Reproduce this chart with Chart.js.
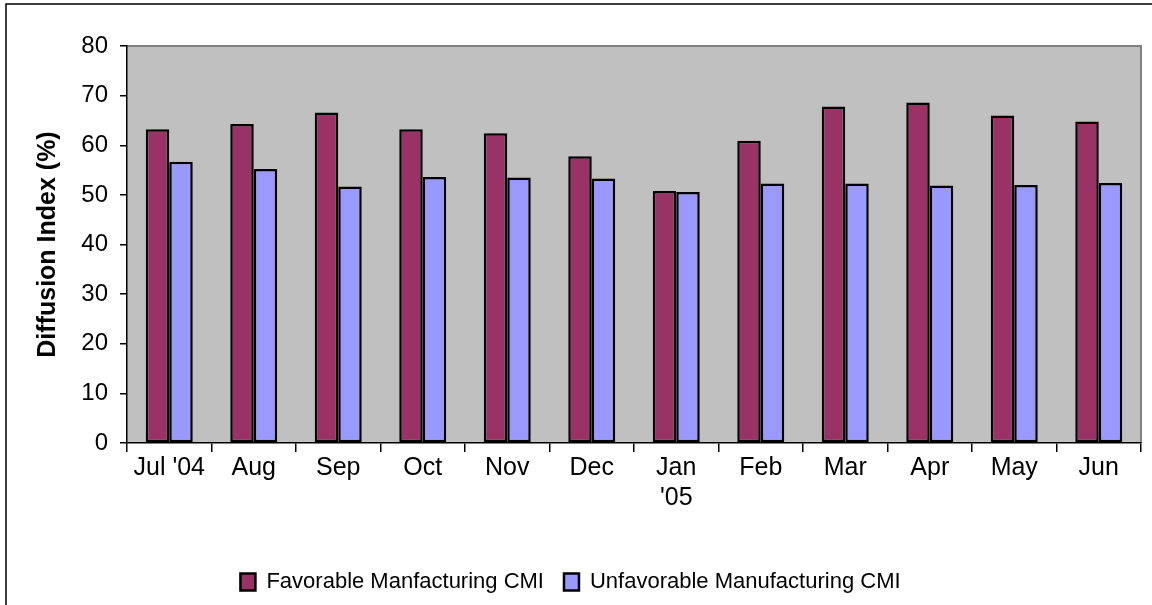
<!DOCTYPE html>
<html>
<head>
<meta charset="utf-8">
<script src="https://cdn.jsdelivr.net/npm/chart.js@4"></script>
<style>
  body { margin: 0; background: #fff; }
  #wrap { width: 1152px; height: 605px; }
</style>
</head>
<body>
<div id="wrap"><canvas id="myChart"></canvas></div>
<script>
const months = ["Jul '04", 'Aug', 'Sep', 'Oct', 'Nov', 'Dec', ['Jan', "'05"], 'Feb', 'Mar', 'Apr', 'May', 'Jun'];
const favorable = [63.2, 64.3, 66.6, 63.2, 62.4, 57.8, 50.8, 60.9, 67.8, 68.6, 66.0, 64.8];
const unfavorable = [56.7, 55.2, 51.7, 53.6, 53.5, 53.3, 50.6, 52.3, 52.3, 51.9, 52.0, 52.4];
const yTicks = [0, 10, 20, 30, 40, 50, 60, 70, 80];

// gray plot area + outer frame like the excel picture
const plotBg = {
  id: 'plotBg',
  beforeDraw(chart) {
    const { ctx, chartArea: a } = chart;
    ctx.save();
    ctx.fillStyle = '#fff';
    ctx.fillRect(0, 0, chart.width, chart.height);
    ctx.fillStyle = '#C0C0C0';
    ctx.fillRect(a.left, a.top, a.right - a.left, a.bottom - a.top);
    ctx.strokeStyle = '#808080';
    ctx.lineWidth = 2;
    ctx.beginPath();
    ctx.moveTo(a.left, a.top);
    ctx.lineTo(a.right, a.top);
    ctx.lineTo(a.right, a.bottom);
    ctx.stroke();
    ctx.strokeStyle = '#000';
    ctx.lineWidth = 1.5;
    ctx.beginPath();
    ctx.moveTo(6, chart.height);
    ctx.lineTo(6, 4);
    ctx.lineTo(chart.width, 4);
    ctx.stroke();
    ctx.restore();
  }
};

Chart.defaults.font.family = '"Liberation Sans", Arial, sans-serif';
Chart.defaults.color = '#000';

const ctx = document.getElementById('myChart');

new Chart(ctx, {
  type: 'bar',
  data: {
    labels: months,
    datasets: [{
      label: 'Favorable Manfacturing CMI',
      data: favorable,
      backgroundColor: '#993366',
      borderColor: '#000',
      borderWidth: 2.5,
      borderSkipped: false
    }, {
      label: 'Unfavorable Manufacturing CMI',
      data: unfavorable,
      backgroundColor: '#9999FF',
      borderColor: '#000',
      borderWidth: 2.5,
      borderSkipped: false
    }]
  },
  options: {
    responsive: true,
    maintainAspectRatio: false,
    animation: false,
    datasets: {
      bar: { categoryPercentage: 0.556, barPercentage: 1 }
    },
    layout: { padding: { top: 46, right: 11, left: 0, bottom: 2 } },
    scales: {
      x: {
        offset: true,
        grid: { offset: true, drawOnChartArea: false, color: '#000', tickLength: 9, lineWidth: 1.5 },
        border: { color: '#000', width: 1.5 },
        ticks: { font: { size: 25 }, padding: 1, maxRotation: 0, autoSkip: false },
        afterFit(scale) { scale.height = 108; }
      },
      y: {
        min: 0,
        max: 80,
        afterBuildTicks(scale) { scale.ticks = yTicks.map(v => ({ value: v })); },
        grid: { drawOnChartArea: false, color: '#000', tickLength: 7, lineWidth: 1.5 },
        border: { color: '#000', width: 1.5 },
        ticks: { font: { size: 24 }, padding: 12 },
        title: {
          display: true,
          text: 'Diffusion Index (%)',
          font: { size: 25, weight: 'bold' },
          padding: { top: 33, bottom: 0 }
        },
        afterFit(scale) { scale.width = 127; }
      }
    },
    plugins: {
      legend: {
        position: 'bottom',
        labels: { font: { size: 22 }, boxWidth: 15, boxHeight: 17, padding: 20 }
      },
      tooltip: { enabled: false }
    }
  },
  plugins: [plotBg]
});
</script>
</body>
</html>
